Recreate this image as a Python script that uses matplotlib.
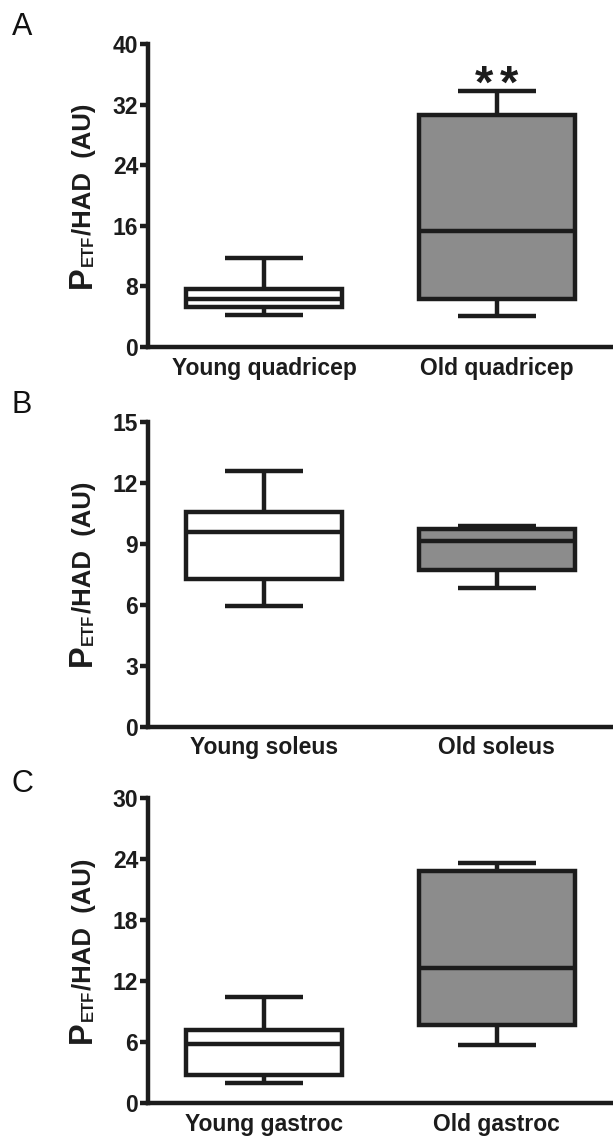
import matplotlib
matplotlib.use("Agg")
import matplotlib.pyplot as plt
from matplotlib.transforms import IdentityTransform, offset_copy

# ---------------- data ----------------
labels_A = ["Young quadricep", "Old quadricep"]
whislo_A = [4.2, 4.1]
q1_A = [5.3, 6.3]
med_A = [6.3, 15.35]
q3_A = [7.7, 30.6]
whishi_A = [11.8, 33.8]
yticks_A = [0, 8, 16, 24, 32, 40]

labels_B = ["Young soleus", "Old soleus"]
whislo_B = [5.95, 6.80]
q1_B = [7.26, 7.69]
med_B = [9.59, 9.13]
q3_B = [10.54, 9.72]
whishi_B = [12.59, 9.89]
yticks_B = [0, 3, 6, 9, 12, 15]

labels_C = ["Young gastroc", "Old gastroc"]
whislo_C = [2.03, 5.74]
q1_C = [2.79, 7.7]
med_C = [5.84, 13.28]
q3_C = [7.21, 22.85]
whishi_C = [10.49, 23.6]
yticks_C = [0, 6, 12, 18, 24, 30]

panel_letters = ["A", "B", "C"]
signif_A = "*"
signif_A_y = 32.9

# ---------------- style ----------------
W, H = 613, 1140
DPI = 100
LINE = "#1c1c1c"
FILLS = ["white", "#8c8c8c"]
LW = 3.2
FONT = ["Liberation Sans", "DejaVu Sans"]
plt.rcParams["font.family"] = FONT

fig = plt.figure(figsize=(W / DPI, H / DPI), dpi=DPI)

ax_px = [(44, 347), (421.7, 726.7), (798.3, 1103.3)]
left_px = 148
letter_base = [35, 413, 792]

panels = [
    (labels_A, whislo_A, q1_A, med_A, q3_A, whishi_A, yticks_A),
    (labels_B, whislo_B, q1_B, med_B, q3_B, whishi_B, yticks_B),
    (labels_C, whislo_C, q1_C, med_C, q3_C, whishi_C, yticks_C),
]

axes = []
for i, (labs, wlo, q1, med, q3, whi, yt) in enumerate(panels):
    top, bot = ax_px[i]
    ax = fig.add_axes([left_px / W, 1 - bot / H, (W - left_px) / W, (bot - top) / H])
    axes.append(ax)
    stats = []
    for j in range(len(labs)):
        stats.append(dict(label=labs[j], whislo=wlo[j], q1=q1[j], med=med[j],
                          q3=q3[j], whishi=whi[j], fliers=[]))
    bp = ax.bxp(stats, positions=range(len(labs)), widths=0.67, patch_artist=True,
                showfliers=False,
                boxprops=dict(linewidth=LW, edgecolor=LINE),
                medianprops=dict(linewidth=LW, color=LINE, solid_capstyle="butt"),
                whiskerprops=dict(linewidth=LW, color=LINE, solid_capstyle="butt"),
                capprops=dict(linewidth=LW, color=LINE, solid_capstyle="butt"))
    for patch, fc in zip(bp["boxes"], FILLS):
        patch.set_facecolor(fc)
        patch.set_joinstyle("miter")
    ax.set_xlim(-0.5, 1.5)
    ax.set_ylim(yt[0], yt[-1])
    ax.set_yticks(yt)
    ax.set_yticklabels([str(v) for v in yt], fontsize=16.5, fontweight="bold", color=LINE)
    ax.set_xticks(range(len(labs)))
    ax.set_xticklabels(labs, fontsize=16.5, fontweight="bold", color=LINE)
    ax.tick_params(axis="x", length=0, pad=7)
    ax.tick_params(axis="y", length=6, width=LW, color=LINE, pad=1)
    for s in ["top", "right"]:
        ax.spines[s].set_visible(False)
    for s in ["left", "bottom"]:
        ax.spines[s].set_linewidth(LW)
        ax.spines[s].set_color(LINE)
    ax.set_facecolor("none")
    fig.text(12 / W, 1 - letter_base[i] / H, panel_letters[i], fontsize=22,
             color="#111111", ha="left", va="baseline")

# significance marker: two asterisks centred over the old quadricep box
for dx in (-12.5, 12.5):
    tr = offset_copy(axes[0].transData, fig=fig, x=dx, y=0, units="dots")
    axes[0].text(1, signif_A_y, signif_A, ha="center", va="baseline", fontsize=34,
                 fontweight="bold", color=LINE, transform=tr)

# y labels built from pieces (P with subscript ETF)
renderer = fig.canvas.get_renderer()
pieces = [("P", 23.5, 0), ("ETF", 12, 1.5), ("/HAD  (AU)", 18.5, 0)]
for ax in axes:
    texts = []
    for txt, size, dx in pieces:
        t = fig.text(0, 0, txt, fontsize=size, fontweight="bold", color=LINE,
                     rotation=90, rotation_mode="anchor", ha="left", va="baseline",
                     transform=IdentityTransform())
        texts.append(t)
    lengths = [t.get_window_extent(renderer).height for t in texts]
    bb = ax.get_window_extent(renderer)
    cy = (bb.y0 + bb.y1) / 2
    y = cy - sum(lengths) / 2
    x_base = 91
    for t, L, (txt, size, dx) in zip(texts, lengths, pieces):
        t.set_position((x_base + dx, y))
        y += L

fig.savefig("out.png", dpi=DPI)
